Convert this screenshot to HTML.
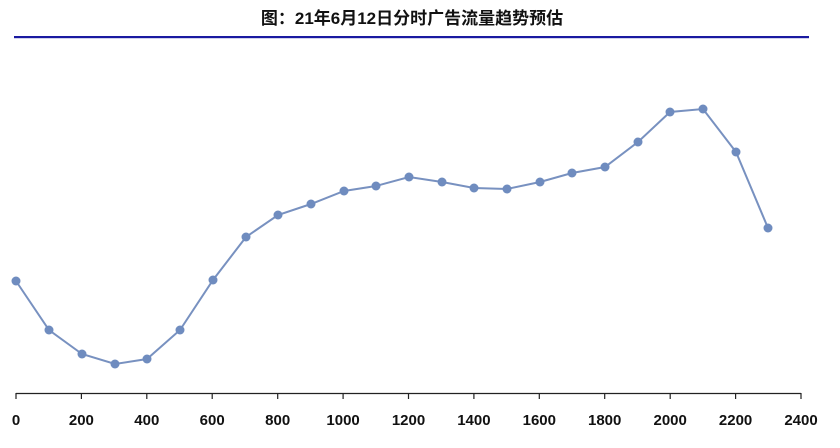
<!DOCTYPE html>
<html><head><meta charset="utf-8"><style>
html,body{margin:0;padding:0;background:#fff;width:840px;height:448px;overflow:hidden}
</style></head><body>
<svg width="840" height="448" xmlns="http://www.w3.org/2000/svg">
<text x="412" y="24" text-anchor="middle" font-family="Liberation Sans, Noto Sans CJK SC, sans-serif" font-weight="bold" font-size="17" fill="#111">图：21年6月12日分时广告流量趋势预估</text>
<rect x="14" y="36" width="795" height="2.2" fill="#1a1aa0"/>
<line x1="16" y1="393.5" x2="801" y2="393.5" stroke="#222" stroke-width="1.2"/>
<g stroke="#222" stroke-width="1.2">
<line x1="16" y1="393" x2="16" y2="399"/><line x1="81.4" y1="393" x2="81.4" y2="399"/><line x1="146.8" y1="393" x2="146.8" y2="399"/><line x1="212.2" y1="393" x2="212.2" y2="399"/><line x1="277.7" y1="393" x2="277.7" y2="399"/><line x1="343.1" y1="393" x2="343.1" y2="399"/><line x1="408.5" y1="393" x2="408.5" y2="399"/><line x1="473.9" y1="393" x2="473.9" y2="399"/><line x1="539.3" y1="393" x2="539.3" y2="399"/><line x1="604.7" y1="393" x2="604.7" y2="399"/><line x1="670.2" y1="393" x2="670.2" y2="399"/><line x1="735.6" y1="393" x2="735.6" y2="399"/><line x1="801" y1="393" x2="801" y2="399"/>
</g>
<g font-family="Liberation Sans, sans-serif" font-weight="bold" font-size="15" fill="#111" text-anchor="middle">
<text x="16" y="425">0</text><text x="81.4" y="425">200</text><text x="146.8" y="425">400</text><text x="212.2" y="425">600</text><text x="277.7" y="425">800</text><text x="343.1" y="425">1000</text><text x="408.5" y="425">1200</text><text x="473.9" y="425">1400</text><text x="539.3" y="425">1600</text><text x="604.7" y="425">1800</text><text x="670.2" y="425">2000</text><text x="735.6" y="425">2200</text><text x="801" y="425">2400</text>
</g>
<polyline fill="none" stroke="#7891c0" stroke-width="2" points="16,281 49,330 82,354 115,364 147,359 180,330 213,280 246,237 278,215 311,204 344,191 376,186 409,177 442,182 474,188 507,189 540,182 572,173 605,167 638,142 670,112 703,109 736,152 768,228"/>
<g fill="#6f8cbf">
<circle cx="16" cy="281" r="4.5"/><circle cx="49" cy="330" r="4.5"/><circle cx="82" cy="354" r="4.5"/><circle cx="115" cy="364" r="4.5"/><circle cx="147" cy="359" r="4.5"/><circle cx="180" cy="330" r="4.5"/><circle cx="213" cy="280" r="4.5"/><circle cx="246" cy="237" r="4.5"/><circle cx="278" cy="215" r="4.5"/><circle cx="311" cy="204" r="4.5"/><circle cx="344" cy="191" r="4.5"/><circle cx="376" cy="186" r="4.5"/><circle cx="409" cy="177" r="4.5"/><circle cx="442" cy="182" r="4.5"/><circle cx="474" cy="188" r="4.5"/><circle cx="507" cy="189" r="4.5"/><circle cx="540" cy="182" r="4.5"/><circle cx="572" cy="173" r="4.5"/><circle cx="605" cy="167" r="4.5"/><circle cx="638" cy="142" r="4.5"/><circle cx="670" cy="112" r="4.5"/><circle cx="703" cy="109" r="4.5"/><circle cx="736" cy="152" r="4.5"/><circle cx="768" cy="228" r="4.5"/>
</g>
</svg>
</body></html>
